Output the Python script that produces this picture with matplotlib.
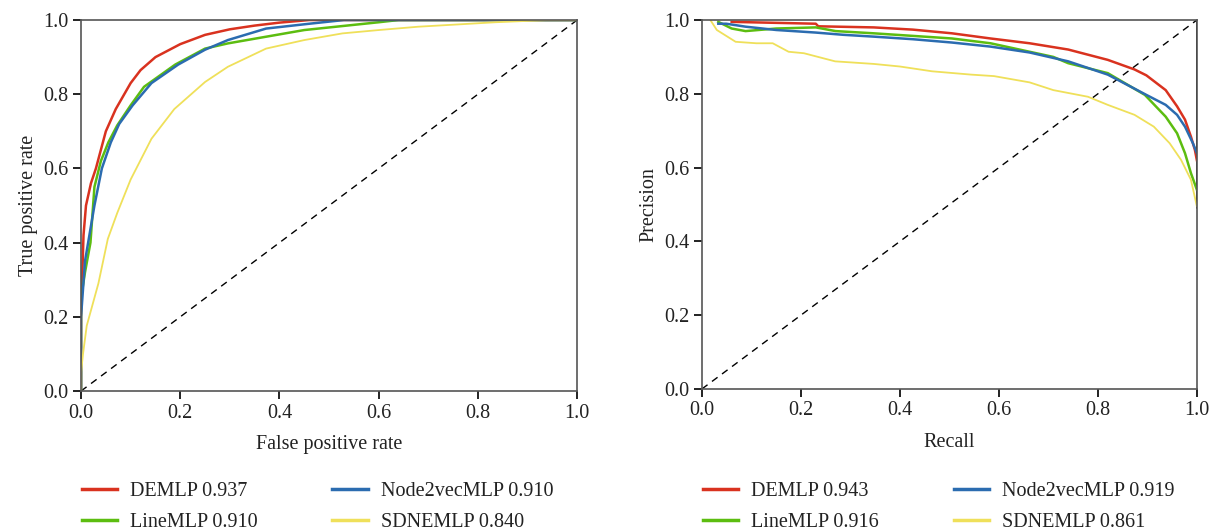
import numpy as np
import matplotlib
matplotlib.use('Agg')
import matplotlib.pyplot as plt

plt.rcParams['font.family'] = ['Liberation Serif', 'DejaVu Serif']
plt.rcParams['font.size'] = 14.5

# ROC curves (false positive rate, true positive rate)
roc_demlp_x = [0.0, 0.0, 0.005, 0.01, 0.02, 0.03, 0.04, 0.05, 0.07, 0.1, 0.12, 0.15, 0.2, 0.25, 0.3, 0.35, 0.4, 0.46, 1.0]
roc_demlp_y = [0.0, 0.2, 0.42, 0.5, 0.56, 0.6, 0.65, 0.7, 0.76, 0.83, 0.865, 0.9, 0.935, 0.96, 0.975, 0.985, 0.993, 1.0, 1.0]
roc_line_x = [0.0, 0.0, 0.008, 0.019, 0.027, 0.04, 0.055, 0.073, 0.1, 0.127, 0.19, 0.25, 0.296, 0.373, 0.45, 0.6, 0.64, 1.0]
roc_line_y = [0.0, 0.25, 0.32, 0.4, 0.55, 0.62, 0.67, 0.716, 0.77, 0.82, 0.88, 0.923, 0.937, 0.955, 0.973, 0.994, 1.0, 1.0]
roc_n2v_x = [0.0, 0.0, 0.008, 0.027, 0.042, 0.06, 0.077, 0.104, 0.142, 0.196, 0.25, 0.296, 0.373, 0.46, 0.53, 1.0]
roc_n2v_y = [0.0, 0.2, 0.35, 0.5, 0.6, 0.67, 0.72, 0.77, 0.83, 0.88, 0.92, 0.946, 0.977, 0.99, 1.0, 1.0]
roc_sdne_x = [0.0, 0.0, 0.004, 0.0115, 0.035, 0.054, 0.073, 0.1, 0.142, 0.188, 0.25, 0.296, 0.373, 0.45, 0.527, 0.6, 0.68, 0.758, 0.835, 0.94, 1.0]
roc_sdne_y = [0.0, 0.05, 0.1, 0.176, 0.29, 0.41, 0.48, 0.57, 0.68, 0.76, 0.833, 0.874, 0.923, 0.946, 0.964, 0.973, 0.982, 0.988, 0.994, 1.0, 1.0]

# PR curves (recall, precision)
pr_demlp_x = [0.06, 0.23, 0.235, 0.347, 0.426, 0.505, 0.583, 0.662, 0.74, 0.82, 0.874, 0.898, 0.937, 0.96, 0.976, 0.988, 0.996, 1.0]
pr_demlp_y = [0.995, 0.99, 0.983, 0.98, 0.974, 0.964, 0.95, 0.937, 0.92, 0.892, 0.866, 0.85, 0.81, 0.766, 0.73, 0.684, 0.648, 0.62]
pr_line_x = [0.033, 0.06, 0.088, 0.15, 0.23, 0.27, 0.347, 0.426, 0.505, 0.583, 0.662, 0.71, 0.74, 0.82, 0.895, 0.937, 0.96, 0.976, 0.988, 1.0]
pr_line_y = [0.995, 0.977, 0.97, 0.977, 0.98, 0.97, 0.964, 0.957, 0.95, 0.937, 0.914, 0.9, 0.883, 0.856, 0.797, 0.738, 0.693, 0.639, 0.585, 0.54]
pr_n2v_x = [0.033, 0.049, 0.088, 0.15, 0.23, 0.285, 0.347, 0.426, 0.505, 0.583, 0.662, 0.74, 0.82, 0.898, 0.937, 0.96, 0.976, 0.992, 1.0]
pr_n2v_y = [0.99, 0.99, 0.982, 0.973, 0.966, 0.96, 0.955, 0.948, 0.939, 0.928, 0.912, 0.888, 0.852, 0.797, 0.77, 0.743, 0.711, 0.666, 0.639]
pr_sdne_x = [0.017, 0.03, 0.068, 0.11, 0.143, 0.175, 0.206, 0.269, 0.347, 0.4, 0.465, 0.544, 0.59, 0.662, 0.71, 0.78, 0.82, 0.874, 0.913, 0.945, 0.968, 0.988, 1.0]
pr_sdne_y = [1.0, 0.973, 0.941, 0.937, 0.937, 0.914, 0.91, 0.888, 0.881, 0.874, 0.861, 0.852, 0.848, 0.831, 0.81, 0.792, 0.77, 0.743, 0.711, 0.666, 0.621, 0.567, 0.495]
pr_floor = 0.49

roc_labels = ['DEMLP 0.937', 'LineMLP 0.910', 'Node2vecMLP 0.910', 'SDNEMLP 0.840']
pr_labels = ['DEMLP 0.943', 'LineMLP 0.916', 'Node2vecMLP 0.919', 'SDNEMLP 0.861']
colors = ['#d9321f', '#5cbd10', '#2b6cb0', '#efe05a']
widths = [1.8, 1.8, 1.8, 1.3]
ticks = [0.0, 0.2, 0.4, 0.6, 0.8, 1.0]

roc_curves = [(roc_demlp_x, roc_demlp_y), (roc_line_x, roc_line_y),
              (roc_n2v_x, roc_n2v_y), (roc_sdne_x, roc_sdne_y)]
pr_curves = [(pr_demlp_x, pr_demlp_y), (pr_line_x, pr_line_y),
             (pr_n2v_x, pr_n2v_y), (pr_sdne_x, pr_sdne_y)]

fig = plt.figure(figsize=(12.13, 5.27), dpi=100)
ax1 = fig.add_axes([0.0668, 0.258, 0.409, 0.704])
ax2 = fig.add_axes([0.5787, 0.262, 0.408, 0.700])


def style(ax):
    ax.set_xlim(0, 1)
    ax.set_ylim(0, 1)
    ax.set_xticks(ticks)
    ax.set_yticks(ticks)
    ax.xaxis.set_major_formatter(matplotlib.ticker.FormatStrFormatter('%.1f'))
    ax.yaxis.set_major_formatter(matplotlib.ticker.FormatStrFormatter('%.1f'))
    for s in ax.spines.values():
        s.set_color('#555555')
        s.set_linewidth(1.2)
    ax.tick_params(direction='out', length=6, width=1.4, color='#222222',
                   labelcolor='#222222', pad=3)
    ax.plot([0, 1], [0, 1], ls='--', color='black', lw=1.0, dashes=(5, 4))


style(ax1)
for (x, y), c, w, lab in zip(roc_curves, colors, widths, roc_labels):
    ax1.plot(x, y, color=c, lw=w, label=lab)
ax1.set_xlabel('False positive rate', color='#222222', labelpad=9)
ax1.set_ylabel('True positive rate', color='#222222', labelpad=4)

style(ax2)
ax2.vlines(1.0, pr_floor, 1.0, color='black', lw=2.0, zorder=1)
for (x, y), c, w, lab in zip(pr_curves, colors, widths, pr_labels):
    ax2.plot(x, y, color=c, lw=w, label=lab)
ax2.set_xlabel('Recall', color='#222222', labelpad=9)
ax2.set_ylabel('Precision', color='#222222', labelpad=4)

leg_kw = dict(loc='upper left', bbox_transform=fig.transFigure, ncol=2,
              frameon=False, handlelength=1.75, handletextpad=0.65,
              columnspacing=3.7, labelspacing=0.6, borderpad=0,
              borderaxespad=0, fontsize=14.5)
leg1 = ax1.legend(bbox_to_anchor=(82 / 1213, 1 - 482 / 527), **leg_kw)
leg2 = ax2.legend(bbox_to_anchor=(703 / 1213, 1 - 482 / 527), **leg_kw)
for leg in (leg1, leg2):
    for h in leg.legend_handles:
        h.set_linewidth(2.5)
    for t in leg.get_texts():
        t.set_color('#222222')

fig.savefig('out.png', dpi=100)
